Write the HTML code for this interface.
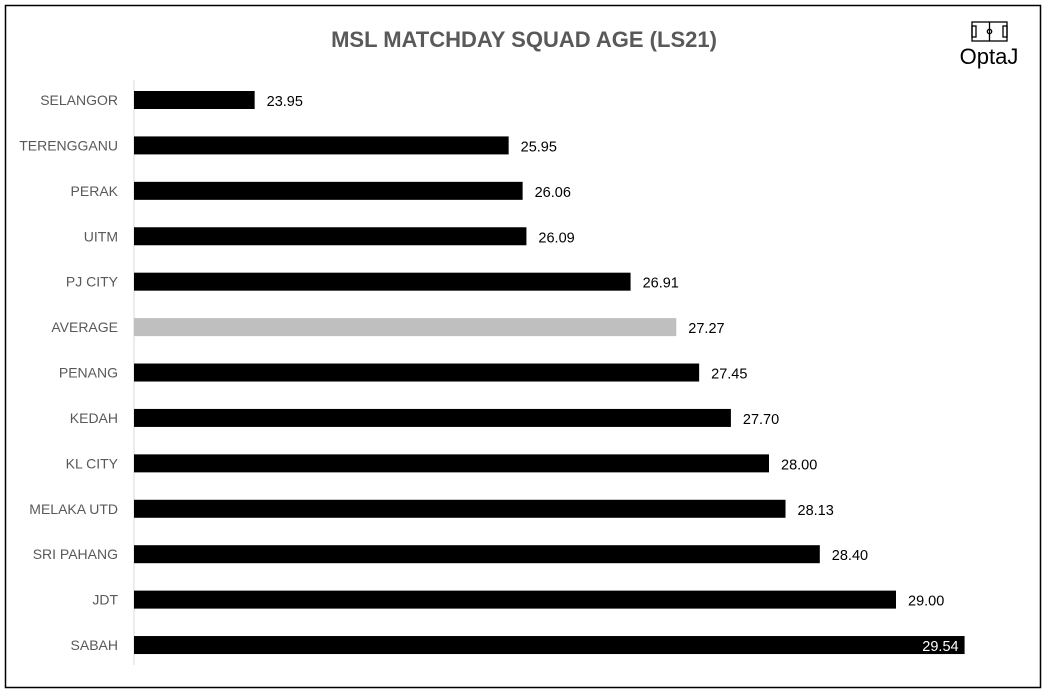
<!DOCTYPE html>
<html><head><meta charset="utf-8"><style>
body{margin:0;background:#fff;font-family:"Liberation Sans",sans-serif;}
#wrap{position:relative;width:1047px;height:693px;}
</style></head><body>
<div id="wrap">
<svg id="chart" width="1047" height="693">
<rect x="5.5" y="5.5" width="1035" height="682" fill="#fff" stroke="#000" stroke-width="1.5"/>
<text x="524" y="47" text-anchor="middle" font-size="22" font-weight="bold" fill="#595959">MSL MATCHDAY SQUAD AGE (LS21)</text>
<g stroke="#000" fill="none" stroke-width="1.3">
<rect x="972" y="22" width="35" height="19"/><line x1="989.5" y1="22" x2="989.5" y2="41"/><circle cx="989.5" cy="31.5" r="2.2"/>
<rect x="972" y="26" width="4" height="11"/><rect x="1003" y="26" width="4" height="11"/>
</g>
<text x="989" y="64" text-anchor="middle" font-size="22" fill="#000">OptaJ</text>
<line x1="134" y1="80" x2="134" y2="665" stroke="#d9d9d9"/>
<g id="bars"></g>
</svg>
</div>
<script>
const categories=["SELANGOR","TERENGGANU","PERAK","UITM","PJ CITY","AVERAGE","PENANG","KEDAH","KL CITY","MELAKA UTD","SRI PAHANG","JDT","SABAH"];
const values=[23.95,25.95,26.06,26.09,26.91,27.27,27.45,27.70,28.00,28.13,28.40,29.00,29.54];
const labels=["23.95","25.95","26.06","26.09","26.91","27.27","27.45","27.70","28.00","28.13","28.40","29.00","29.54"];
const xMin=23, xMax=30;
const x=v=>134+(v-xMin)*127;
const y=i=>100+i*45.42;
const g=document.getElementById('bars');
const ns="http://www.w3.org/2000/svg";
categories.forEach((c,i)=>{
  const r=document.createElementNS(ns,'rect');
  r.setAttribute('x',134);r.setAttribute('y',y(i)-9);
  r.setAttribute('width',x(values[i])-134);r.setAttribute('height',18);
  r.setAttribute('fill',c==="AVERAGE"?"#bfbfbf":"#000");
  
  
  g.appendChild(r);
  const t=document.createElementNS(ns,'text');
  t.setAttribute('x',118);t.setAttribute('y',y(i)+5);
  t.setAttribute('text-anchor','end');t.setAttribute('font-size','14');t.setAttribute('fill','#595959');
  t.textContent=c;
  
  
  g.appendChild(t);
  const v=document.createElementNS(ns,'text');
  const last=i===categories.length-1;
  v.setAttribute('x',last?x(values[i])-6:x(values[i])+12);
  v.setAttribute('text-anchor',last?'end':'start');
  v.setAttribute('y',y(i)+6);v.setAttribute('font-size','14.5');
  v.setAttribute('fill',last?'#fff':'#000');
  v.textContent=labels[i];
  
  
  g.appendChild(v);
});
</script>
</body></html>
